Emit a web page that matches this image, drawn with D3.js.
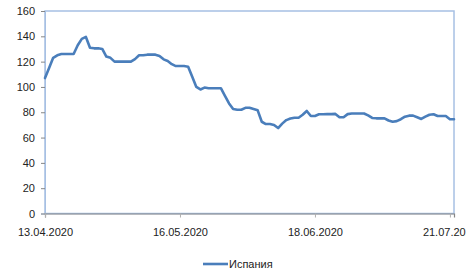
<!DOCTYPE html>
<html><head><meta charset="utf-8">
<script src="https://cdn.jsdelivr.net/npm/d3@7/dist/d3.min.js"></script>
<style>
html,body{margin:0;padding:0;background:#fff;}
svg{display:block;font-family:"Liberation Sans",Arial,sans-serif;}
</style></head>
<body>
<svg id="c" width="466" height="272"></svg>
<script>
const seriesName = "Испания";
const startDate = "13.04.2020";
const values = [107,115,123,125,126,126,126,126,133,138,139.5,131,130.5,130.5,130,124,123,120,
120,120,120,120,122,125,125,125.5,125.5,125.5,124.5,121.8,120.5,118,116.5,116.5,116.5,
116,108,100,98,99.5,99,99,99,99,93,87,82.5,82,82,83.5,83.5,82.5,
81.5,72.5,70.7,70.7,70,67.5,71,73.8,75,75.7,75.7,78,81,77,77,78.4,78.4,
78.5,78.5,78.7,76,76,78.5,79,79,79,79,77.5,75.5,75.2,75.2,75.2,73.5,
72.5,73,74.5,76.5,77.3,77.3,76,74.7,76.5,78,78.4,77,77,77,74.5,74.5];
const yTicks = [0,20,40,60,80,100,120,140,160];
const xTickIdx = [0,33,66,99];

const parse = d3.timeParse("%d.%m.%Y");
const fmt = d3.timeFormat("%d.%m.%Y");
const d0 = parse(startDate);
const data = values.map((v,i)=>({date:d3.timeDay.offset(d0,i), v}));

const svg = d3.select("#c");
const L=45, R=454, T=11, B=213.5;
const x = d3.scaleTime().domain([data[0].date, data[data.length-1].date]).range([L,R]);
const y = d3.scaleLinear().domain([0,160]).range([B,T]);

// plot border (light blue)
svg.append("rect").attr("x",L).attr("y",T).attr("width",R-L).attr("height",B-T)
  .attr("fill","none").attr("stroke","#A7C0E3").attr("stroke-width",1.5);

// y axis
const ya = svg.append("g").attr("transform",`translate(${L},0)`)
  .call(d3.axisLeft(y).tickValues(yTicks).tickSize(4).tickPadding(6));
ya.select(".domain").attr("stroke","#A7C0E3");
ya.selectAll(".tick line").attr("stroke","#868686");
ya.selectAll("text").attr("font-size","11px").attr("fill","#222");

// x axis
const xa = svg.append("g").attr("transform",`translate(0,${B})`)
  .call(d3.axisBottom(x).tickValues(xTickIdx.map(i=>data[i].date)).tickFormat(fmt).tickSize(4).tickPadding(11));
xa.select(".domain").attr("stroke","#868686").attr("stroke-width",1.2);
xa.selectAll(".tick line").attr("stroke","#B0B0B0");
xa.selectAll("text").attr("font-size","11px").attr("fill","#222");

// line
svg.append("path").datum(data)
  .attr("fill","none").attr("stroke","#4A7EBB").attr("stroke-width",2.6)
  .attr("stroke-linejoin","round").attr("stroke-linecap","round")
  .attr("d", d3.line().x(d=>x(d.date)).y(d=>y(d.v)));

// legend
const lg = svg.append("g");
lg.append("line").attr("x1",203).attr("x2",228).attr("y1",264).attr("y2",264)
  .attr("stroke","#4A7EBB").attr("stroke-width",2.6);
lg.append("text").attr("x",229).attr("y",268).attr("font-size","11px").attr("fill","#222").text(seriesName);
</script>
</body></html>
